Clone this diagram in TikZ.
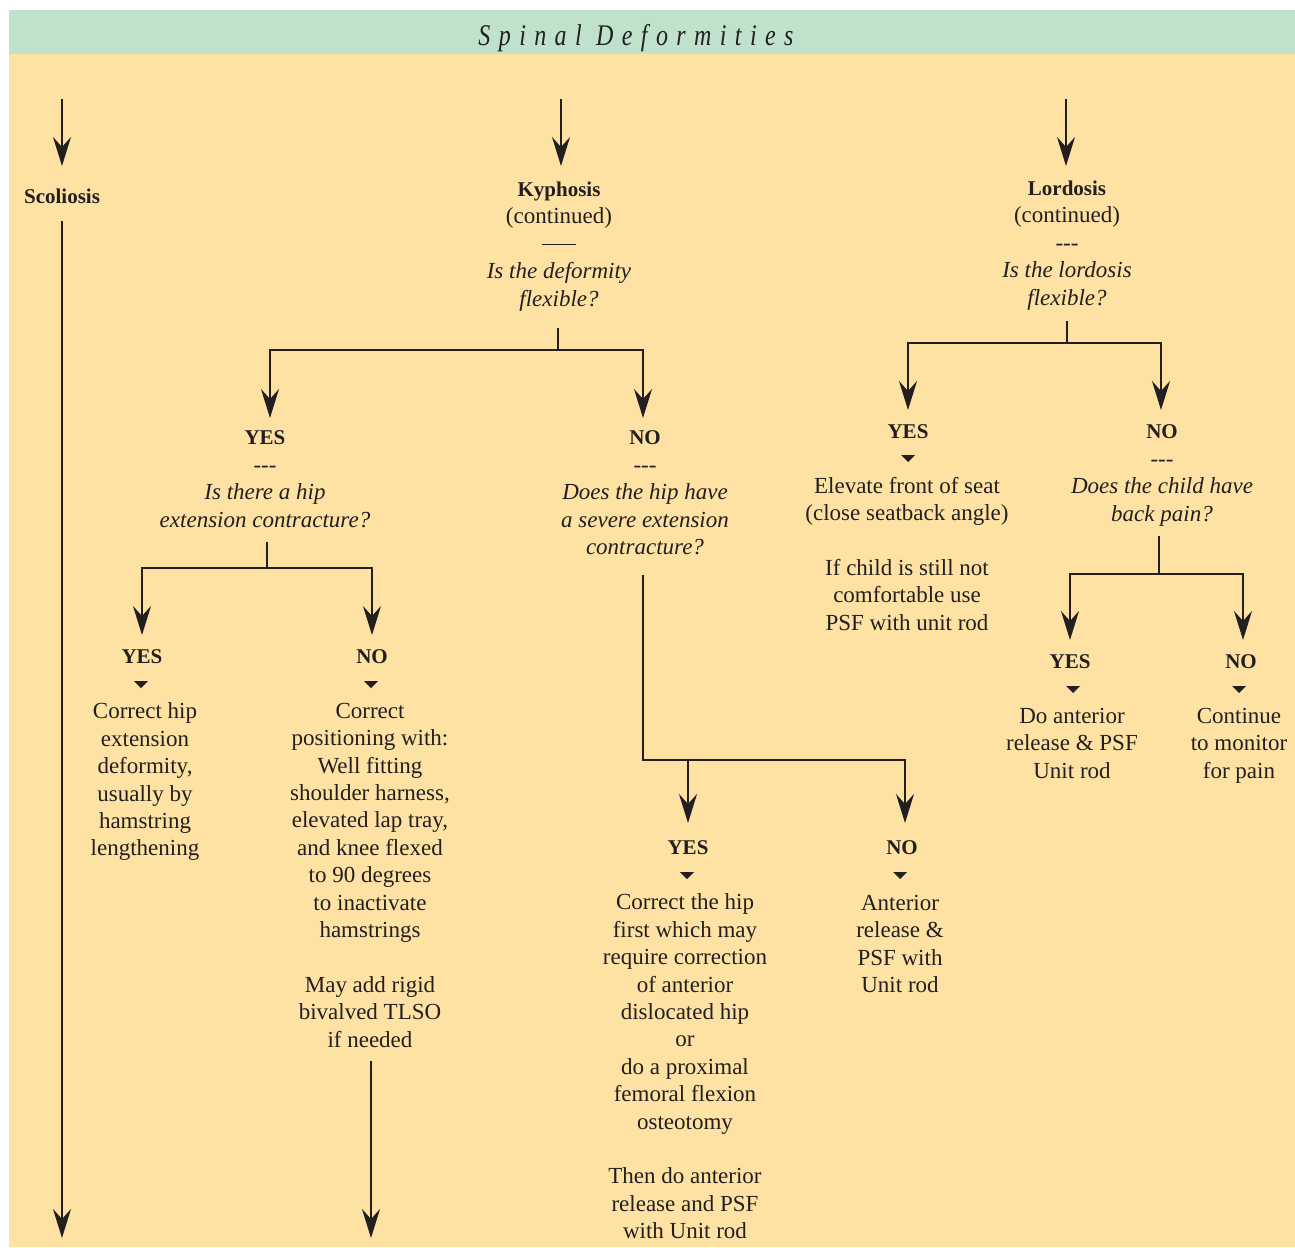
\documentclass[tikz,border=0pt]{standalone}
\usepackage{fontspec}
\setmainfont{Liberation Serif}
\newfontfamily\titlefont[LetterSpace=28,FakeStretch=0.8]{Liberation Serif}
\usetikzlibrary{arrows.meta}
\definecolor{ink}{HTML}{231F20}
\definecolor{bandgreen}{HTML}{C0E2CB}
\definecolor{beige}{HTML}{FEE2A3}
\newcommand\tridash{\mbox{-}\mbox{-}\mbox{-}}
\newcommand\dtri[2]{\fill[ink] (#1-7,#2) -- (#1+7,#2) -- (#1,#2+7) -- cycle;}
\begin{document}
\begin{tikzpicture}[x=1pt,y=-1pt,
  txt/.style={inner sep=0pt, outer sep=0pt, align=center, anchor=north, text=ink, font=\fontsize{23}{27.4}\selectfont},
  lab/.style={txt, font=\fontsize{21}{27.4}\selectfont\bfseries},
  wire/.style={draw=ink, line width=2.2pt, line join=miter},
  arr/.style={wire, -{Stealth[length=29pt,width=18pt,inset=10pt]}, shorten >=15pt},
]
\useasboundingbox (0,0) rectangle (1295,1247);
\fill[beige] (9,10) rectangle (1295,1247);
\fill[bandgreen] (9,10) rectangle (1295,54);
\node[anchor=base, text=ink, font=\titlefont\fontsize{30}{34}\selectfont\itshape] (title) at (636,46) {Spinal Deformities};

% coordinates
\coordinate (scoltop) at (62,99);
\coordinate (kyphtop) at (561,99);
\coordinate (lordtop) at (1066,99);
\coordinate (scolend) at (62,1238);
\coordinate (hnoend) at (371,1238);
\coordinate (kj) at (558,350);
\coordinate (hj) at (267,568);
\coordinate (kj2) at (643,760);
\coordinate (lj) at (1067,343);
\coordinate (pj) at (1159,574);

% nodes
\node[lab] (scol) at (62,189) {Scoliosis};
\node[txt] (kyph) at (559,182) {{\fontsize{21}{27.4}\selectfont\bfseries Kyphosis}\\(continued)\\\rule[6pt]{34pt}{1.3pt}\\{\itshape Is the deformity}\\{\itshape flexible?}};
\node[txt] (lord) at (1067,181) {{\fontsize{21}{27.4}\selectfont\bfseries Lordosis}\\(continued)\\\tridash\\{\itshape Is the lordosis}\\{\itshape flexible?}};
\node[txt] (kyes) at (265,431) {{\fontsize{21}{27.4}\selectfont\bfseries YES}\\\tridash\\{\itshape Is there a hip}\\{\itshape extension contracture?}};
\node[txt] (kno) at (645,431) {{\fontsize{21}{27.4}\selectfont\bfseries NO}\\\tridash\\{\itshape Does the hip have}\\{\itshape a severe extension}\\{\itshape contracture?}};
\node[lab] (hyes) at (142,650) {YES};
\node[txt] (hyest) at (145,703) {Correct hip\\extension\\deformity,\\usually by\\hamstring\\lengthening};
\node[lab] (hno) at (372,650) {NO};
\node[txt] (hnot) at (370,703) {Correct\\positioning with:\\Well fitting\\shoulder harness,\\elevated lap tray,\\and knee flexed\\to 90 degrees\\to inactivate\\hamstrings\\[27.4pt]May add rigid\\bivalved TLSO\\if needed};
\node[lab] (byes) at (688,841) {YES};
\node[txt] (byest) at (685,894) {Correct the hip\\first which may\\require correction\\of anterior\\dislocated hip\\or\\do a proximal\\femoral flexion\\osteotomy\\[27.4pt]Then do anterior\\release and PSF\\with Unit rod};
\node[lab] (bno) at (902,841) {NO};
\node[txt] (bnot) at (900,895) {Anterior\\release \&\\PSF with\\Unit rod};
\node[lab] (lyes) at (908,425) {YES};
\node[txt] (lyest) at (907,477) {Elevate front of seat\\(close seatback angle)\\[27.4pt]If child is still not\\comfortable use\\PSF with unit rod};
\node[txt] (lno) at (1162,425) {{\fontsize{21}{27.4}\selectfont\bfseries NO}\\\tridash\\{\itshape Does the child have}\\{\itshape back pain?}};
\node[lab] (pyes) at (1070,655) {YES};
\node[txt] (pyest) at (1072,708) {Do anterior\\release \& PSF\\Unit rod};
\node[lab] (pno) at (1241,655) {NO};
\node[txt] (pnot) at (1239,708) {Continue\\to monitor\\for pain};

% connectors
\draw[arr, shorten >=23pt] (scoltop) -- (scoltop |- scol.north);
\draw[arr, shorten >=16pt] (kyphtop) -- (kyphtop |- kyph.north);
\draw[arr] (lordtop) -- (lordtop |- lord.north);
\draw[arr, shorten <=17pt, shorten >=0pt] (scolend |- scol.south) -- (scolend);

\draw[wire, shorten <=17pt] (kj |- kyph.south) -- (kj);
\draw[arr, shorten >=13pt] (kj) -| ([xshift=5pt]kyes.north);
\draw[arr, shorten >=13pt] (kj) -| ([xshift=-2pt]kno.north);

\draw[wire, shorten <=15pt] (hj |- kyes.south) -- (hj);
\draw[arr] (hj) -| (hyes.north);
\draw[arr] (hj) -| (hno.north);
\draw[arr, shorten <=14pt, shorten >=0pt] (hnoend |- hnot.south) -- (hnoend);

\draw[arr, shorten <=20pt, shorten >=18pt] (kj2 |- kno.south) -- (kj2) -| ([xshift=3pt]bno.north);
\draw[arr, shorten >=18pt] (kj2 -| byes.north) -- (byes.north);

\draw[wire, shorten <=11pt] (lj |- lord.south) -- (lj);
\draw[arr] (lj) -| (lyes.north);
\draw[arr] (lj) -| ([xshift=-1pt]lno.north);

\draw[wire, shorten <=10pt] (pj |- lno.south) -- (pj);
\draw[arr] (pj) -| (pyes.north);
\draw[arr] (pj) -| ([xshift=2pt]pno.north);

% small pointers
\dtri{141}{681}
\dtri{371}{681}
\dtri{687}{872}
\dtri{900}{872}
\dtri{908}{455}
\dtri{1073}{686}
\dtri{1239}{686}
\end{tikzpicture}
\end{document}
